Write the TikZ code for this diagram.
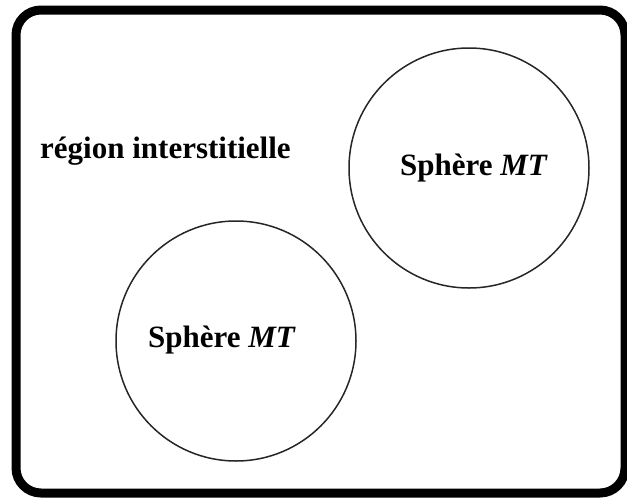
\documentclass[tikz,border=0pt]{standalone}
\usepackage{fontspec}
\setmainfont{Liberation Serif}
\begin{document}
\begin{tikzpicture}[x=1pt,y=-1pt,
  frame/.style={draw=black,line width=9pt,rounded corners=25pt},
  sphere/.style={draw=black!85,line width=1.5pt,circle,minimum size=240pt,inner sep=0pt},
  lbl/.style={font=\fontsize{31}{36}\selectfont\bfseries,inner sep=0pt,anchor=base west}]
  \useasboundingbox (0,0) rectangle (627,498);
  % outer cell boundary
  \draw[frame] (16,10) rectangle (625,493);
  % muffin-tin spheres
  \node[sphere] (s1) at (469,168) {};
  \node[sphere] (s2) at (236,341) {};
  % labels
  \node[lbl] (ri) at (40,158) {région interstitielle};
  \node[lbl] (t1) at (400,175) {Sphère \textit{MT}};
  \node[lbl] (t2) at (148,347) {Sphère \textit{MT}};
\end{tikzpicture}
\end{document}
